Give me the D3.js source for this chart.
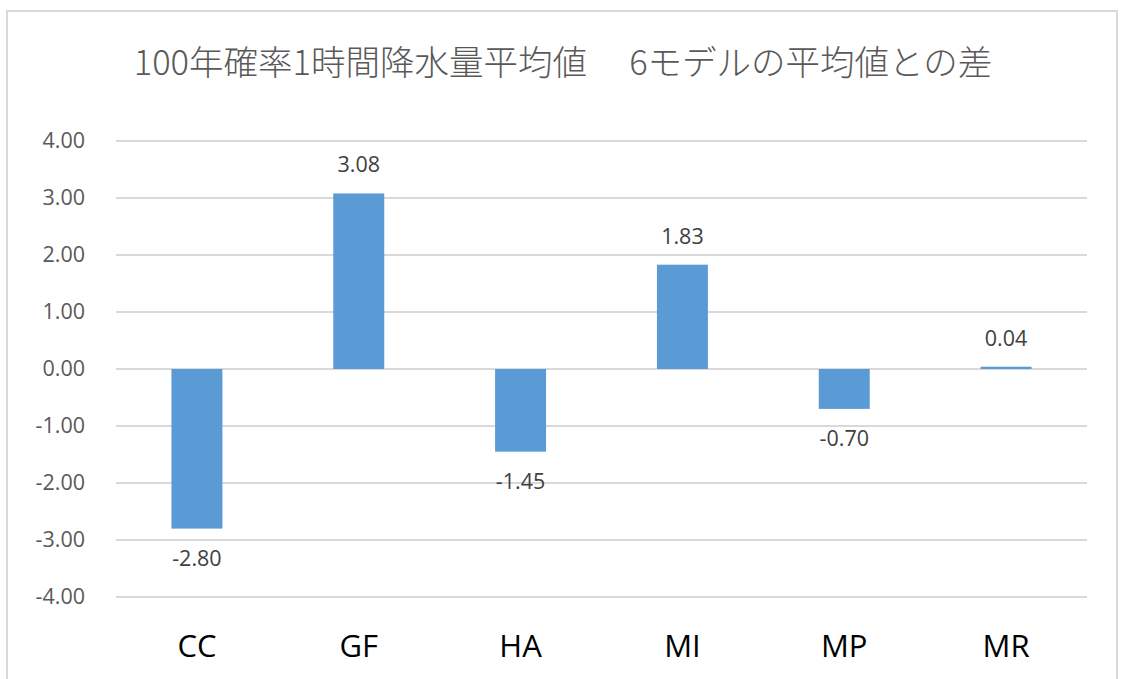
<!DOCTYPE html>
<html lang="ja">
<head>
<meta charset="utf-8">
<script src="https://cdn.jsdelivr.net/npm/d3@7"></script>
<style>
  html, body { margin: 0; padding: 0; background: #fff; }
  svg { display: block; }
</style>
</head>
<body>
<svg id="chart" width="1121" height="679"></svg>
<script>
// Difference of each model's 100-year 1-hour rainfall from the 6-model mean
const titleText = "100年確率1時間降水量平均値\u3000 6モデルの平均値との差";
const categories = ["CC", "GF", "HA", "MI", "MP", "MR"];
const values = [-2.80, 3.08, -1.45, 1.83, -0.70, 0.04];
const yTicks = [-4, -3, -2, -1, 0, 1, 2, 3, 4];

const svg = d3.select("#chart");

// two decimals with a plain hyphen for negatives
const fmt = d3.formatLocale({ decimal: ".", thousands: ",", grouping: [3], currency: ["", ""], minus: "-" }).format(".2f");

// chart frame
svg.append("rect")
  .attr("x", 7).attr("y", 11)
  .attr("width", 1110).attr("height", 680)
  .attr("fill", "#fff")
  .attr("stroke", "#d9d9d9").attr("stroke-width", 2);

// title
svg.append("text")
  .attr("x", 563).attr("y", 75)
  .attr("text-anchor", "middle")
  .attr("font-family", "'Noto Sans CJK JP', 'Noto Sans', sans-serif")
  .attr("font-size", 34.5)
  .attr("font-weight", 300)
  .attr("fill", "#595959")
  .text(titleText);

const plot = { left: 116, right: 1087, top: 141, bottom: 597 };

const x = d3.scaleBand()
  .domain(categories)
  .range([plot.left, plot.right])
  .paddingInner(0.685)
  .paddingOuter(0.3425);

const y = d3.scaleLinear()
  .domain([-4, 4])
  .range([plot.bottom, plot.top]);

// horizontal gridlines
svg.append("g")
  .selectAll("line")
  .data(yTicks)
  .join("line")
  .attr("x1", plot.left).attr("x2", plot.right)
  .attr("y1", d => y(d)).attr("y2", d => y(d))
  .attr("stroke", "#d9d9d9").attr("stroke-width", 2);

// y axis tick labels
const yAxis = d3.axisLeft(y)
  .tickValues(yTicks)
  .tickFormat(fmt)
  .tickSize(0)
  .tickPadding(31);
const gy = svg.append("g")
  .attr("transform", `translate(${plot.left},0)`)
  .call(yAxis);
gy.select(".domain").remove();
gy.selectAll("text")
  .attr("font-family", "'Open Sans', 'Noto Sans', sans-serif")
  .attr("font-size", 21.5)
  .attr("fill", "#595959");

// bars
svg.append("g")
  .selectAll("rect")
  .data(values)
  .join("rect")
  .attr("x", (d, i) => x(categories[i]))
  .attr("width", x.bandwidth())
  .attr("y", d => y(Math.max(0, d)))
  .attr("height", d => Math.abs(y(d) - y(0)))
  .attr("fill", "#5b9bd5");

// value labels
svg.append("g")
  .selectAll("text")
  .data(values)
  .join("text")
  .attr("x", (d, i) => x(categories[i]) + x.bandwidth() / 2)
  .attr("y", d => d >= 0 ? y(d) - 21 : y(d) + 37)
  .attr("text-anchor", "middle")
  .attr("font-family", "'Open Sans', 'Noto Sans', sans-serif")
  .attr("font-size", 21.5)
  .attr("fill", "#404040")
  .text(d => fmt(d));

// category labels
const xAxis = d3.axisBottom(x).tickSize(0).tickPadding(38);
const gx = svg.append("g")
  .attr("transform", `translate(0,${plot.bottom})`)
  .call(xAxis);
gx.select(".domain").remove();
gx.selectAll("text")
  .attr("font-family", "'Open Sans', 'Noto Sans', sans-serif")
  .attr("font-size", 31)
  .attr("fill", "#000");
</script>
</body>
</html>
